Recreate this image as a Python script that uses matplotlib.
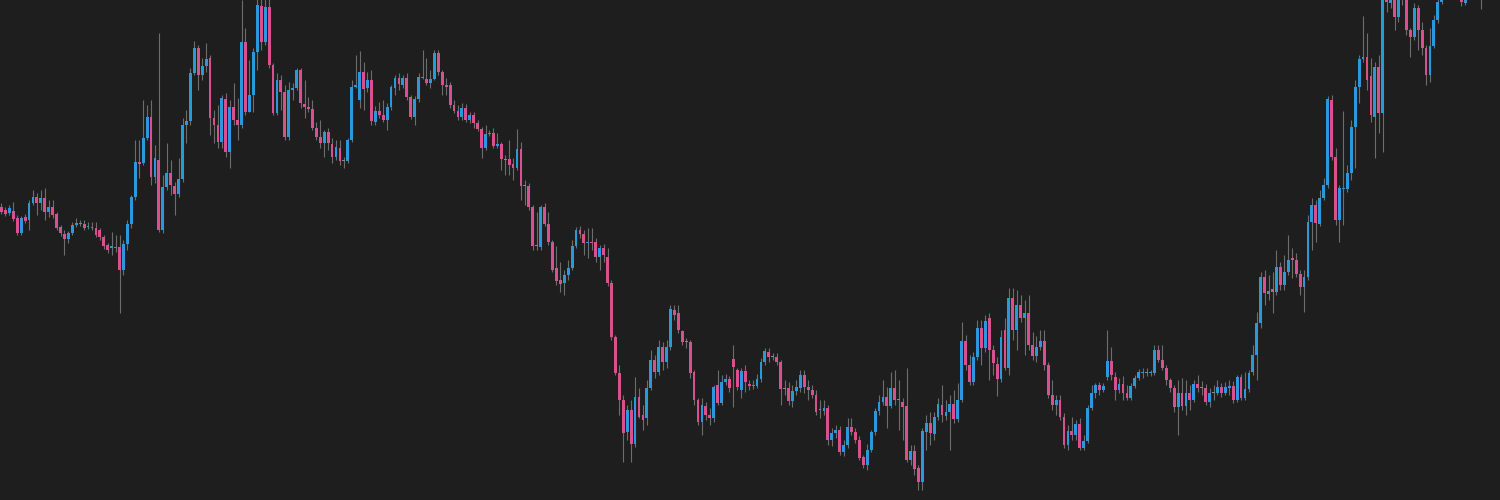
import numpy as np
import matplotlib
matplotlib.use("Agg")
import matplotlib.pyplot as plt

# candle data, one value per bar (arbitrary price units)
opens = [
    293, 290, 287, 289, 282, 267, 283, 280, 297, 303,
    297, 302, 288, 293, 286, 273, 266, 261, 267, 275,
    276, 276, 273, 273, 272, 270, 263, 255, 252, 252,
    253, 230, 256, 276, 303, 338, 337, 362, 383, 323,
    340, 270, 313, 327, 314, 306, 321, 375, 379, 427,
    452, 425, 434, 442, 382, 375, 358, 401, 348, 393,
    380, 375, 458, 388, 405, 448, 494, 458, 493, 435,
    387, 420, 408, 363, 410, 412, 430, 396, 393, 391,
    372, 363, 357, 368, 356, 343, 352, 339, 339, 360,
    413, 400, 428, 412, 420, 378, 389, 385, 380, 393,
    412, 422, 415, 422, 403, 383, 401, 422, 421, 417,
    421, 447, 428, 415, 415, 395, 389, 383, 392, 380,
    385, 377, 371, 352, 366, 367, 354, 356, 340, 341,
    336, 332, 351, 314, 314, 293, 254, 253, 293, 276,
    258, 232, 220, 217, 225, 232, 254, 270, 266, 257,
    258, 258, 243, 252, 243, 217, 163, 127, 100, 68,
    90, 56, 103, 85, 82, 112, 140, 128, 153, 138,
    153, 190, 187, 169, 158, 158, 128, 100, 78, 94,
    85, 82, 115, 97, 118, 121, 141, 130, 110, 129,
    116, 115, 114, 121, 138, 148, 143, 143, 138, 111,
    112, 99, 109, 112, 125, 113, 110, 105, 90, 89,
    92, 60, 67, 70, 48, 55, 73, 68, 60, 43,
    35, 50, 68, 89, 98, 103, 94, 112, 100, 98,
    94, 40, 49, 32, 18, 68, 77, 66, 83, 95,
    84, 88, 96, 81, 100, 159, 135, 118, 143, 172,
    152, 182, 150, 136, 121, 170, 132, 202, 170, 195,
    182, 187, 155, 144, 153, 159, 135, 105, 95, 100,
    83, 55, 69, 65, 76, 52, 59, 92, 107, 115,
    110, 123, 139, 123, 110, 116, 107, 102, 114, 122,
    127, 127, 127, 127, 150, 140, 132, 120, 112, 93,
    107, 94, 107, 100, 116, 112, 112, 98, 107, 107,
    113, 107, 112, 114, 100, 123, 102, 111, 128, 145,
    177, 223, 206, 211, 208, 233, 215, 228, 242, 240,
    226, 213, 223, 278, 295, 276, 302, 315, 400, 343,
    280, 311, 311, 327, 373, 413, 441, 443, 424, 383,
    433, 387, 505, 497, 500, 483, 505, 502, 470, 463,
    492, 470, 452, 425, 454, 480, 498, 510, 518, 512,
    520, 508, 497, 506, 515, 510, 518, 504, 514,
]
closes = [
    288, 286, 292, 281, 267, 282, 279, 297, 303, 297,
    302, 288, 293, 285, 272, 267, 261, 267, 275, 277,
    277, 272, 274, 272, 265, 263, 254, 250, 254, 253,
    230, 256, 276, 303, 338, 336, 362, 383, 323, 342,
    270, 313, 327, 315, 306, 321, 375, 379, 427, 452,
    425, 434, 441, 382, 375, 358, 402, 348, 393, 380,
    375, 458, 388, 405, 448, 495, 458, 493, 435, 387,
    420, 408, 363, 410, 412, 430, 397, 393, 391, 372,
    363, 357, 368, 357, 343, 353, 339, 339, 360, 413,
    415, 428, 411, 420, 379, 389, 385, 380, 393, 413,
    422, 416, 422, 403, 383, 401, 423, 423, 417, 421,
    447, 428, 415, 413, 395, 389, 383, 392, 380, 385,
    377, 371, 352, 366, 367, 354, 356, 341, 340, 335,
    332, 351, 314, 314, 293, 254, 254, 293, 276, 258,
    230, 219, 216, 225, 232, 254, 270, 266, 257, 258,
    257, 243, 252, 245, 217, 163, 127, 100, 67, 90,
    56, 103, 83, 80, 112, 140, 128, 153, 138, 153,
    191, 185, 170, 158, 158, 127, 100, 78, 95, 85,
    82, 113, 97, 118, 121, 112, 133, 113, 129, 118,
    114, 114, 121, 138, 149, 143, 143, 138, 111, 111,
    99, 109, 113, 125, 113, 110, 105, 88, 90, 92,
    60, 67, 70, 48, 55, 73, 68, 60, 42, 35,
    50, 68, 89, 98, 103, 94, 112, 100, 100, 93,
    40, 49, 31, 18, 69, 77, 67, 83, 96, 85,
    88, 96, 81, 100, 159, 135, 118, 143, 172, 152,
    179, 150, 137, 121, 163, 132, 202, 170, 195, 182,
    187, 155, 144, 153, 159, 135, 105, 95, 100, 83,
    55, 69, 65, 76, 52, 59, 92, 107, 115, 110,
    114, 139, 125, 110, 116, 107, 102, 114, 122, 128,
    128, 127, 128, 150, 140, 132, 120, 112, 93, 107,
    94, 107, 100, 116, 112, 112, 98, 107, 107, 113,
    107, 113, 114, 100, 123, 102, 111, 127, 145, 177,
    223, 207, 209, 208, 233, 215, 228, 240, 240, 226,
    213, 223, 278, 295, 277, 302, 315, 401, 343, 280,
    312, 312, 327, 373, 413, 441, 443, 420, 385, 433,
    387, 505, 498, 502, 483, 500, 502, 470, 463, 492,
    470, 452, 425, 454, 480, 498, 510, 518, 512, 520,
    508, 498, 506, 515, 510, 518, 504, 514, 520,
]
highs = [
    297, 293, 295, 298, 285, 284, 286, 300, 310, 307,
    310, 312, 300, 300, 288, 275, 270, 269, 278, 282,
    280, 280, 278, 278, 278, 272, 265, 257, 268, 265,
    265, 260, 280, 305, 360, 360, 400, 395, 400, 355,
    467, 325, 357, 340, 318, 342, 382, 390, 432, 459,
    455, 442, 457, 445, 390, 395, 405, 407, 400, 417,
    402, 500, 472, 440, 452, 505, 505, 505, 505, 437,
    427, 425, 415, 418, 417, 432, 432, 420, 403, 400,
    378, 380, 370, 372, 362, 360, 360, 343, 362, 420,
    445, 449, 438, 428, 430, 394, 398, 400, 397, 415,
    425, 427, 425, 427, 405, 404, 427, 450, 442, 430,
    450, 450, 430, 422, 418, 400, 395, 397, 396, 388,
    388, 380, 373, 375, 370, 372, 367, 358, 345, 360,
    342, 371, 358, 320, 317, 295, 288, 295, 297, 288,
    260, 254, 238, 230, 240, 260, 273, 274, 270, 272,
    272, 262, 255, 256, 252, 220, 165, 135, 105, 95,
    100, 123, 112, 95, 120, 150, 145, 160, 158, 160,
    195, 195, 195, 170, 162, 160, 130, 102, 102, 98,
    92, 115, 130, 125, 126, 124, 155, 132, 132, 135,
    120, 120, 126, 142, 152, 152, 147, 147, 140, 120,
    118, 115, 120, 130, 130, 120, 115, 110, 100, 100,
    95, 72, 75, 74, 60, 82, 82, 72, 64, 45,
    56, 70, 92, 105, 120, 113, 128, 130, 120, 102,
    132, 55, 55, 35, 72, 85, 88, 88, 102, 115,
    100, 105, 110, 117, 178, 165, 145, 148, 180, 180,
    185, 187, 155, 143, 170, 182, 212, 212, 210, 205,
    200, 205, 168, 164, 170, 170, 138, 120, 105, 105,
    87, 75, 83, 80, 82, 65, 95, 115, 117, 118,
    117, 170, 153, 128, 122, 124, 115, 117, 125, 131,
    132, 132, 130, 155, 155, 155, 135, 122, 115, 120,
    122, 120, 115, 120, 125, 119, 116, 112, 115, 120,
    117, 118, 120, 119, 125, 126, 128, 130, 155, 188,
    228, 230, 225, 228, 250, 238, 245, 265, 252, 247,
    230, 230, 285, 302, 300, 310, 322, 404, 405, 352,
    315, 389, 335, 380, 420, 445, 484, 467, 442, 438,
    445, 510, 510, 510, 505, 505, 510, 508, 472, 497,
    495, 478, 455, 472, 485, 503, 515, 525, 525, 528,
    525, 512, 512, 520, 522, 524, 522, 520, 526,
]
lows = [
    286, 284, 285, 279, 265, 265, 277, 270, 295, 285,
    290, 280, 283, 282, 270, 264, 245, 257, 265, 273,
    274, 270, 271, 270, 263, 260, 251, 247, 245, 248,
    187, 225, 250, 272, 300, 322, 335, 360, 315, 317,
    268, 267, 310, 305, 285, 303, 318, 357, 375, 425,
    410, 420, 428, 365, 357, 352, 352, 343, 332, 375,
    360, 372, 385, 388, 388, 430, 450, 455, 432, 385,
    385, 390, 360, 360, 400, 410, 392, 382, 388, 370,
    360, 352, 343, 350, 337, 340, 335, 332, 337, 358,
    412, 392, 390, 408, 375, 375, 382, 378, 370, 390,
    405, 410, 412, 400, 381, 375, 398, 421, 415, 412,
    420, 425, 405, 405, 392, 387, 380, 380, 378, 377,
    372, 369, 342, 350, 364, 352, 352, 330, 325, 325,
    320, 330, 300, 295, 290, 250, 250, 250, 274, 255,
    228, 215, 208, 205, 220, 230, 252, 262, 245, 242,
    250, 238, 230, 238, 214, 160, 125, 85, 38, 60,
    38, 53, 82, 70, 75, 110, 122, 125, 130, 132,
    150, 180, 167, 155, 152, 122, 95, 75, 65, 80,
    75, 78, 95, 95, 115, 108, 93, 110, 102, 108,
    110, 111, 112, 118, 135, 138, 140, 135, 95, 105,
    95, 93, 105, 108, 107, 100, 102, 85, 82, 85,
    55, 54, 62, 45, 44, 52, 65, 57, 40, 32,
    30, 48, 65, 85, 95, 72, 92, 95, 70, 60,
    38, 35, 25, 10, 10, 50, 55, 60, 80, 78,
    80, 50, 77, 78, 98, 130, 115, 115, 140, 135,
    148, 120, 125, 104, 118, 130, 125, 160, 150, 178,
    145, 150, 140, 138, 150, 130, 102, 90, 85, 80,
    52, 50, 60, 60, 50, 50, 57, 90, 102, 105,
    108, 120, 120, 100, 107, 100, 100, 100, 112, 120,
    122, 124, 124, 125, 138, 130, 115, 108, 88, 65,
    90, 85, 90, 98, 108, 105, 95, 93, 100, 105,
    103, 105, 105, 97, 98, 100, 100, 108, 125, 120,
    172, 195, 200, 187, 205, 210, 210, 225, 222, 223,
    205, 188, 220, 250, 258, 274, 300, 312, 340, 275,
    258, 275, 308, 320, 332, 397, 438, 410, 378, 342,
    367, 348, 488, 492, 470, 478, 495, 465, 443, 460,
    450, 445, 415, 418, 452, 477, 496, 508, 508, 510,
    505, 494, 495, 504, 506, 508, 491, 502, 510,
]

o = np.array(opens, dtype=float)
c = np.array(closes, dtype=float)
h = np.array(highs, dtype=float)
l = np.array(lows, dtype=float)
x = np.arange(len(o))

bg = "#1e1e1e"
up_col = "#2b98dc"
down_col = "#d9508f"
doji_col = "#8a8a8a"
wick_col = "#7c7c7c"

colors = np.where(c > o, up_col, np.where(c < o, down_col, doji_col))
bottom = np.minimum(o, c)
height = np.maximum(np.abs(c - o), 1.0)

fig = plt.figure(figsize=(15, 5), dpi=100, facecolor=bg)
ax = fig.add_axes([0, 0, 1, 1])
ax.set_facecolor(bg)

ax.vlines(x, l, h, color=wick_col, linewidth=0.8, alpha=0.85, zorder=1)
ax.bar(x, height, bottom=bottom, width=0.72, color=colors, linewidth=0, zorder=2)

# ~3.935 px per candle across the 1500 px canvas
ax.set_xlim(-0.38, 380.8)
ax.set_ylim(0, 500)
ax.axis("off")

fig.savefig("out.png", dpi=100, facecolor=bg)
